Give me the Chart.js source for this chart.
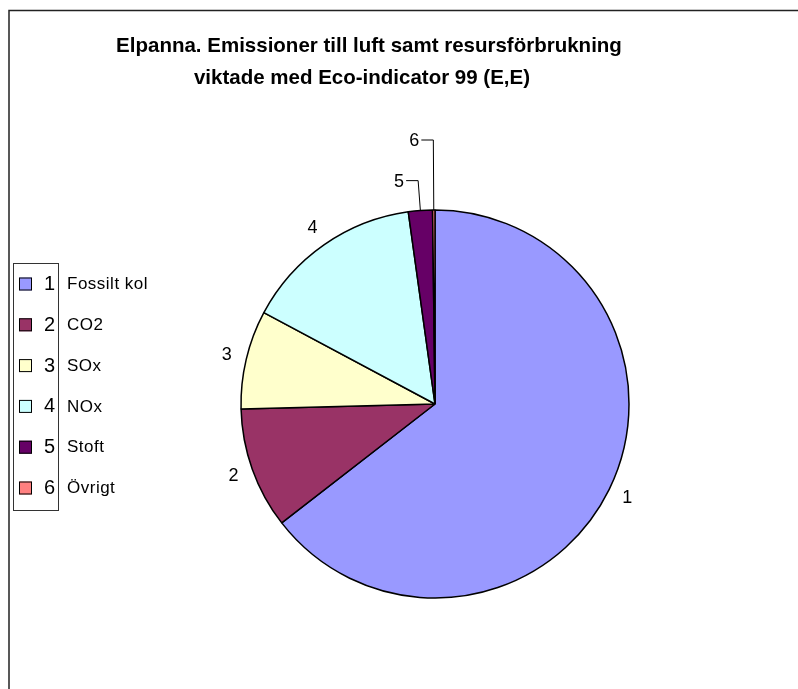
<!DOCTYPE html>
<html>
<head>
<meta charset="utf-8">
<script src="https://cdn.jsdelivr.net/npm/chart.js@4/dist/chart.umd.min.js"></script>
<style>
    html, body { margin: 0; padding: 0; background: #fff; }
    #wrap { position: relative; width: 798px; height: 689px; }
</style>
</head>
<body>
<div id="wrap"><canvas id="pie" width="798" height="689"></canvas></div>
<script>
var titleLines = ['Elpanna. Emissioner till luft samt resursförbrukning', 'viktade med Eco-indicator 99 (E,E)'];
var sliceNumbers = ['1', '2', '3', '4', '5', '6'];
var sliceNames = ['Fossilt kol', 'CO2', 'SOx', 'NOx', 'Stoft', 'Övrigt'];
var sliceValues = [64.5, 10.1, 8.2, 15.0, 2.0, 0.2];
var sliceColors = ['#9999FF', '#993366', '#FFFFCC', '#CCFFFF', '#660066', '#FF8080'];

var FONT = '"Liberation Sans", Arial, sans-serif';

// frame, title and the legend box on the left
var decorPlugin = {
    id: 'decor',
    beforeDraw: function(chart){
        var ctx = chart.ctx;
        ctx.save();
        ctx.strokeStyle = '#222';
        ctx.lineWidth = 1.5;
        ctx.beginPath();
        ctx.moveTo(9, 689);
        ctx.lineTo(9, 10.5);
        ctx.lineTo(798, 10.5);
        ctx.stroke();

        ctx.fillStyle = '#000';
        ctx.font = 'bold 20.5px ' + FONT;
        ctx.textAlign = 'center';
        ctx.textBaseline = 'middle';
        ctx.fillText(titleLines[0], 369, 46);
        ctx.fillText(titleLines[1], 362, 78);
        ctx.restore();
    },
    afterDraw: function(chart){
        var ctx = chart.ctx;
        ctx.save();
        ctx.strokeStyle = '#333';
        ctx.lineWidth = 1;
        ctx.strokeRect(13.5, 263.5, 45, 247);
        for(var i = 0; i < sliceNumbers.length; i++){
            var y = 283.5 + i * 40.8;
            ctx.fillStyle = sliceColors[i];
            ctx.fillRect(19, y - 6, 13, 13);
            ctx.strokeStyle = '#000';
            ctx.strokeRect(19.5, y - 5.5, 12, 12);
            ctx.fillStyle = '#000';
            ctx.textBaseline = 'middle';
            ctx.textAlign = 'left';
            ctx.font = '20px ' + FONT;
            ctx.fillText(sliceNumbers[i], 44, y + 1);
            ctx.font = '17px ' + FONT;
            ctx.letterSpacing = '0.5px';
            ctx.fillText(sliceNames[i], 67, y + 1);
            ctx.letterSpacing = '0px';
        }
        ctx.restore();
    }
};

// numbers beside the slices, small slices get a leader line
var sliceLabelPlugin = {
    id: 'sliceLabels',
    afterDatasetsDraw: function(chart){
        var ctx = chart.ctx;
        var arcs = chart.getDatasetMeta(0).data;
        ctx.save();
        ctx.font = '18px ' + FONT;
        ctx.fillStyle = '#000';
        ctx.strokeStyle = '#000';
        ctx.lineWidth = 1;
        ctx.textAlign = 'center';
        ctx.textBaseline = 'middle';
        var lift = 30;
        arcs.forEach(function(arc, i){
            var mid = (arc.startAngle + arc.endAngle) / 2;
            var r = arc.outerRadius;
            if(sliceValues[i] >= 3){
                ctx.fillText(sliceNumbers[i], arc.x + Math.cos(mid) * (r + 20), arc.y + Math.sin(mid) * (r + 20));
            } else {
                var x0 = arc.x + Math.cos(mid) * r;
                var y0 = arc.y + Math.sin(mid) * r;
                var x1 = arc.x + Math.cos(mid) * (r + lift);
                var y1 = arc.y + Math.sin(mid) * (r + lift);
                ctx.beginPath();
                ctx.moveTo(x0, y0);
                ctx.lineTo(x1, y1);
                ctx.lineTo(x1 - 12, y1);
                ctx.stroke();
                ctx.fillText(sliceNumbers[i], x1 - 19, y1 + 1);
                lift += 40;
            }
        });
        ctx.restore();
    }
};

new Chart(document.getElementById('pie').getContext('2d'), {
    type: 'pie',
    data: {
        labels: sliceNames,
        datasets: [{
            data: sliceValues,
            backgroundColor: sliceColors,
            borderColor: '#000',
            borderWidth: 1.5,
            borderAlign: 'center'
        }]
    },
    options: {
        responsive: false,
        animation: false,
        radius: 194,
        layout: {
            padding: { top: 210, bottom: 91, left: 241, right: 169 }
        },
        plugins: {
            legend: { display: false },
            title: { display: false },
            tooltip: { enabled: false }
        }
    },
    plugins: [decorPlugin, sliceLabelPlugin]
});
</script>
</body>
</html>
